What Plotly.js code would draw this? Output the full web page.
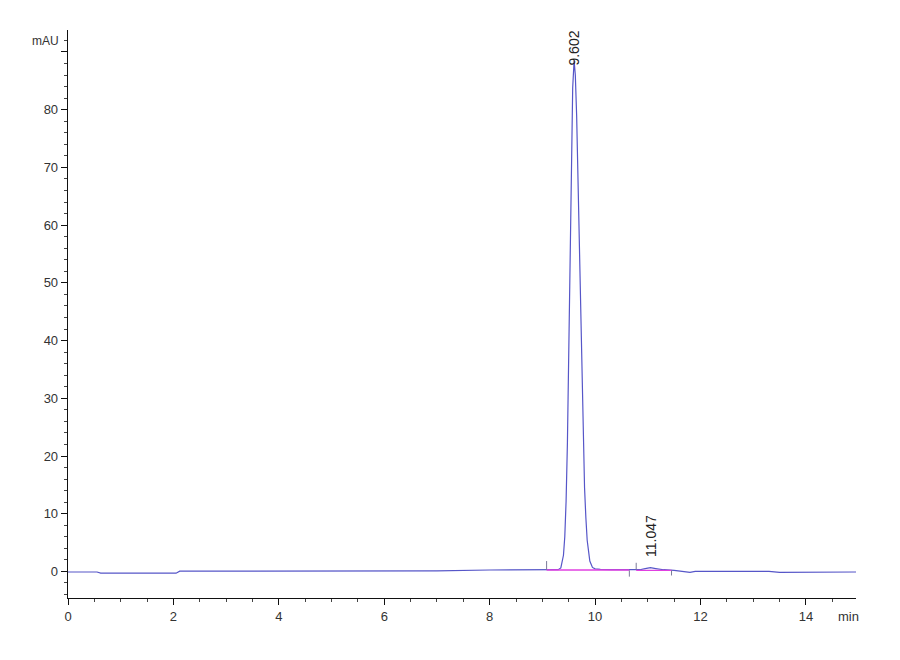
<!DOCTYPE html>
<html>
<head>
<meta charset="utf-8">
<script src="https://cdn.plot.ly/plotly-3.0.1.min.js"></script>
<style>html,body{margin:0;padding:0;background:#fff;}#chart{width:900px;height:660px;}</style>
</head>
<body>
<div id="chart"></div>
<script>
// Chromatogram signal (time in min, absorbance in mAU)
const timeMin = [0, 0.55, 0.62, 2.05, 2.12, 4.0, 6.0, 7.0, 8.0, 8.8, 9.0, 9.25, 9.30, 9.35, 9.40, 9.425, 9.45, 9.475, 9.50, 9.525, 9.55, 9.575, 9.602, 9.625, 9.65, 9.675, 9.70, 9.725, 9.75, 9.775, 9.80, 9.825, 9.85, 9.90, 9.95, 10.0, 10.1, 10.3, 10.6, 10.85, 10.95, 11.05, 11.15, 11.3, 11.5, 11.7, 11.8, 11.9, 12.5, 13.3, 13.5, 14.2, 14.3, 14.95];
const signalMAU = [-0.1, -0.1, -0.3, -0.3, 0.05, 0.05, 0.05, 0.1, 0.25, 0.3, 0.3, 0.35, 0.3, 0.6, 2.8, 6.0, 12.2, 22.3, 36.5, 53.8, 71.0, 83.8, 88.5, 86.0, 79.0, 68.6, 56.2, 43.6, 31.9, 22.1, 14.5, 9.3, 5.4, 1.8, 0.7, 0.45, 0.35, 0.3, 0.25, 0.3, 0.5, 0.65, 0.5, 0.3, 0.2, 0.0, -0.15, 0.0, 0.05, 0.0, -0.15, -0.15, -0.1, -0.1];

// Integration baselines
const baseStart = [9.08, 10.78];
const baseEnd = [10.65, 11.45];
const baseLevel = [0.25, 0.2];

// Integration event marks: time, from, to
const markTime = [9.08, 10.65, 10.78, 11.45];
const markFrom = [0.3, 0.2, 0.3, 0.2];
const markTo = [1.8, -0.9, 1.5, -0.7];

// Peak labels
const peakTimes = [9.602, 11.047];
const peakLabels = ['9.602', '11.047'];
const peakLabelY = [90.6, 6.2];

const yTickVals = [0, 10, 20, 30, 40, 50, 60, 70, 80, 90];
const yTickText = ['0', '10', '20', '30', '40', '50', '60', '70', '80', ''];

const traces = [];
traces.push({x: timeMin, y: signalMAU, type: 'scatter', mode: 'lines',
  line: {color: '#5656c8', width: 1.2}, hoverinfo: 'skip'});
for (let i = 0; i < baseStart.length; i++) {
  traces.push({x: [baseStart[i], baseEnd[i]], y: [baseLevel[i], baseLevel[i]], type: 'scatter', mode: 'lines',
    line: {color: '#e040e0', width: 1.3}, hoverinfo: 'skip'});
}
for (let i = 0; i < markTime.length; i++) {
  traces.push({x: [markTime[i], markTime[i]], y: [markFrom[i], markTo[i]], type: 'scatter', mode: 'lines',
    line: {color: '#7a7a9a', width: 1}, hoverinfo: 'skip'});
}

const annotations = peakTimes.map((t, i) => ({
  x: t, y: peakLabelY[i], xref: 'x', yref: 'y', text: peakLabels[i], showarrow: false,
  textangle: -90, xanchor: 'center', yanchor: 'middle',
  font: {family: 'Liberation Sans, Arial, sans-serif', size: 14, color: '#222'}
}));
annotations.push({xref: 'paper', yref: 'paper', x: -0.028, y: 0.98, text: 'mAU', showarrow: false,
  xanchor: 'center', yanchor: 'middle', font: {family: 'Liberation Sans, Arial, sans-serif', size: 12, color: '#333'}});
annotations.push({xref: 'paper', yref: 'paper', x: 0.99, y: 0, yshift: -18, text: 'min', showarrow: false,
  xanchor: 'center', yanchor: 'middle', font: {family: 'Liberation Sans, Arial, sans-serif', size: 13, color: '#333'}});

const layout = {
  width: 900, height: 660,
  margin: {l: 68, r: 44, t: 30, b: 62},
  paper_bgcolor: '#fff', plot_bgcolor: '#fff',
  showlegend: false,
  font: {family: 'Liberation Sans, Arial, sans-serif', size: 13, color: '#333'},
  xaxis: {range: [0, 14.95], dtick: 2, tick0: 0, showgrid: false, zeroline: false,
    showline: true, linecolor: '#111', linewidth: 1.3, ticks: 'outside', ticklen: 6, tickcolor: '#111',
    minor: {dtick: 0.5, tick0: 0, ticks: 'outside', ticklen: 3, tickcolor: '#444', showgrid: false}},
  yaxis: {range: [-4.6, 93.8], tickmode: 'array', tickvals: yTickVals, ticktext: yTickText,
    showgrid: false, zeroline: false,
    showline: true, linecolor: '#111', linewidth: 1.3, ticks: 'outside', ticklen: 6, tickcolor: '#111',
    minor: {dtick: 2, tick0: 0, ticks: 'outside', ticklen: 3, tickcolor: '#444', showgrid: false}},
  annotations: annotations
};

Plotly.newPlot('chart', traces, layout, {displayModeBar: false, staticPlot: true});
</script>
</body>
</html>
